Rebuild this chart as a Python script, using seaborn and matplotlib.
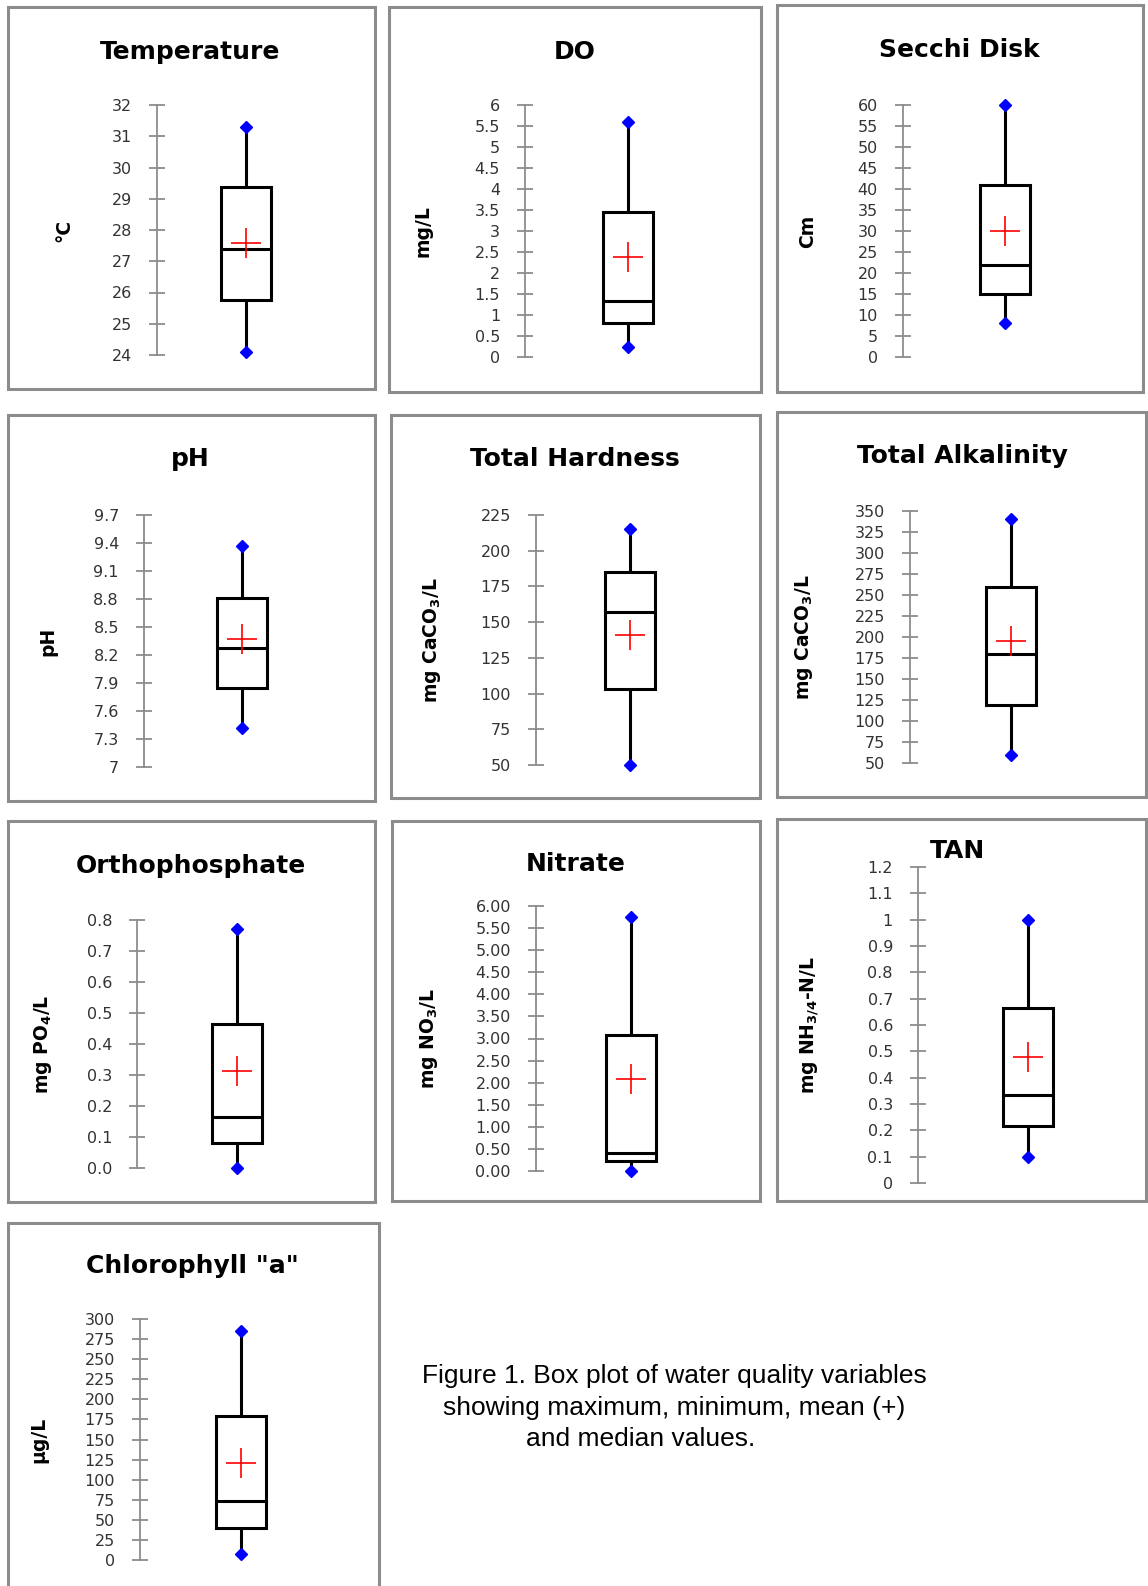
import numpy as np
import pandas as pd
import matplotlib
matplotlib.use("Agg")
import matplotlib.pyplot as plt
from matplotlib.patches import Rectangle
import seaborn as sns

# panel titles and axis labels
titles = ["Temperature", "DO", "Secchi Disk",
          "pH", "Total Hardness", "Total Alkalinity",
          "Orthophosphate", "Nitrate", "TAN",
          'Chlorophyll "a"']
ylabels = ["°C", "mg/L", "Cm",
           "pH", r"mg CaCO$_\mathbf{3}$/L", r"mg CaCO$_\mathbf{3}$/L",
           r"mg PO$_\mathbf{4}$/L", r"mg NO$_\mathbf{3}$/L", r"mg NH$_{\mathbf{3/4}}$-N/L",
           "µg/L"]

# five-number summaries and means
minimum = [24.1, 0.25, 8, 7.42, 50, 60, 0.0, 0.0, 0.10, 7.6]
q1 = [25.75, 0.80, 15, 7.85, 103, 119, 0.082, 0.23, 0.215, 40]
median = [27.4, 1.33, 22, 8.28, 157, 180, 0.166, 0.41, 0.333, 74]
q3 = [29.38, 3.45, 41, 8.81, 185, 260, 0.463, 3.09, 0.663, 179]
maximum = [31.3, 5.6, 60, 9.37, 215, 340, 0.77, 5.75, 1.0, 285]
mean = [27.6, 2.39, 30, 8.37, 141, 195, 0.313, 2.09, 0.479, 121]

# y ticks (values + labels as shown)
ytick_vals = [
    list(range(24, 33)),
    [i * 0.5 for i in range(13)],
    list(range(0, 61, 5)),
    [7 + 0.3 * i for i in range(10)],
    list(range(50, 226, 25)),
    list(range(50, 351, 25)),
    [i / 10 for i in range(9)],
    [i * 0.5 for i in range(13)],
    [i / 10 for i in range(13)],
    list(range(0, 301, 25)),
]
ytick_labels = [
    [str(v) for v in range(24, 33)],
    ["0", "0.5", "1", "1.5", "2", "2.5", "3", "3.5", "4", "4.5", "5", "5.5", "6"],
    [str(v) for v in range(0, 61, 5)],
    ["7", "7.3", "7.6", "7.9", "8.2", "8.5", "8.8", "9.1", "9.4", "9.7"],
    [str(v) for v in range(50, 226, 25)],
    [str(v) for v in range(50, 351, 25)],
    ["%.1f" % (i / 10) for i in range(9)],
    ["%.2f" % (i * 0.5) for i in range(13)],
    ["0", "0.1", "0.2", "0.3", "0.4", "0.5", "0.6", "0.7", "0.8", "0.9", "1", "1.1", "1.2"],
    [str(v) for v in range(0, 301, 25)],
]

# layout in pixels: (spine x, top y, bottom y, box centre x)
axes_px = [
    (157, 105, 355, 246), (525, 105, 357, 628), (903, 105, 357, 1005),
    (144, 515, 767, 242), (536, 515, 765, 630), (910, 511, 763, 1011),
    (137, 920, 1168, 237), (536, 906, 1171, 631), (918, 867, 1183, 1028),
    (140, 1319, 1560, 241),
]
label_dist = [84, 92, 86, 87, 93, 95, 83, 96, 97, 92]
panel_px = [
    (8, 7, 375, 389), (389, 7, 761, 392), (777, 5, 1143, 392),
    (8, 415, 375, 801), (391, 415, 760, 798), (777, 412, 1146, 797),
    (8, 821, 375, 1202), (392, 821, 760, 1201), (777, 819, 1146, 1201),
    (8, 1223, 379, 1600),
]
title_px = [(190, 52), (575, 52), (959, 50), (190, 459), (575, 459), (962, 456),
            (191, 866), (576, 864), (958, 851), (192, 1266)]

W, H = 1148, 1586
fig = plt.figure(figsize=(W / 100, H / 100), dpi=100)
sns.set_style("white")
plt.rcParams["font.family"] = ["DejaVu Sans"]

for (x0, y0, x1, y1) in panel_px:
    fig.patches.append(Rectangle((x0 / W, 1 - y1 / H), (x1 - x0) / W, (y1 - y0) / H,
                                 transform=fig.transFigure, fill=False,
                                 edgecolor="#8c8c8c", linewidth=2.2))

for i in range(len(titles)):
    sx, top, bot, cx = axes_px[i]
    aw = 2 * (cx - sx)
    ax = fig.add_axes([sx / W, 1 - bot / H, aw / W, (bot - top) / H])
    df = pd.DataFrame({"v": [minimum[i], q1[i], median[i], q3[i], maximum[i]]})
    sns.boxplot(data=df, y="v", ax=ax, whis=(0, 100), width=50 / aw,
                color="white", linecolor="black", linewidth=2.2,
                capprops={"linewidth": 0}, showfliers=False)
    ax.plot([0, 0], [minimum[i], maximum[i]], ls="none", marker="D",
            ms=6, color="blue", clip_on=False, zorder=5)
    ax.plot([0], [mean[i]], ls="none", marker="+", ms=22, mew=1.2,
            color="red", clip_on=False, zorder=6)
    ax.set_xlim(-0.5, 0.5)
    ax.set_ylim(ytick_vals[i][0], ytick_vals[i][-1])
    ax.set_yticks(ytick_vals[i])
    ax.set_yticklabels(ytick_labels[i])
    ax.set_xticks([])
    ax.set_xlabel("")
    ax.patch.set_alpha(0)
    for s in ["top", "right", "bottom"]:
        ax.spines[s].set_visible(False)
    ax.spines["left"].set_color("#8c8c8c")
    ax.spines["left"].set_linewidth(1.3)
    ax.tick_params(axis="y", direction="inout", length=12, width=1.3,
                   color="#8c8c8c", labelsize=11.5, labelcolor="#333333", pad=12,
                   left=True)
    ax.set_ylabel(ylabels[i], fontsize=13.5, fontweight="bold", color="black")
    ax.yaxis.set_label_coords(-label_dist[i] / aw, 0.5)
    tx, ty = title_px[i]
    fig.text(tx / W, 1 - ty / H, titles[i], ha="center", va="center",
             fontsize=18, fontweight="bold", color="black")

cap_font = ["Liberation Sans", "DejaVu Sans"]
fig.text(422 / W, 1 - 1376 / H, "Figure 1. Box plot of water quality variables",
         ha="left", va="center", fontsize=19, family=cap_font, color="black")
fig.text(443 / W, 1 - 1408 / H, "showing maximum, minimum, mean (+)",
         ha="left", va="center", fontsize=19, family=cap_font, color="black")
fig.text(526 / W, 1 - 1439 / H, "and median values.",
         ha="left", va="center", fontsize=19, family=cap_font, color="black")

fig.savefig("out.png", dpi=100)
